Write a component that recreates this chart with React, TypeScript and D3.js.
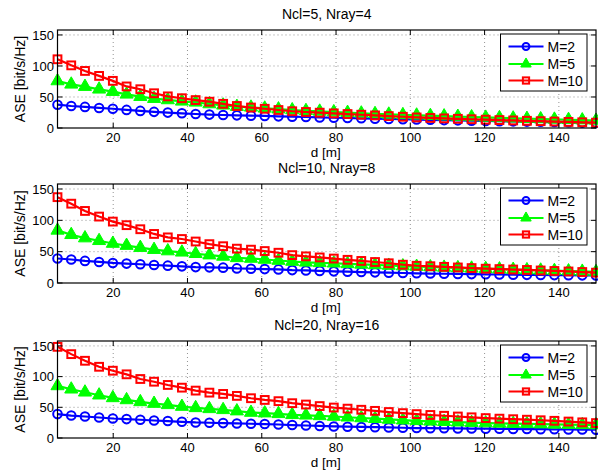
import * as d3 from 'd3';

// distance samples (m)
const dist = [5, 8.7, 12.4, 16.2, 19.9, 23.6, 27.3, 31.0, 34.7, 38.5, 42.2, 45.9, 49.6, 53.3, 57.1, 60.8, 64.5, 68.2, 71.9, 75.6,
  79.4, 83.1, 86.8, 90.5, 94.2, 98.0, 101.7, 105.4, 109.1, 112.8, 116.5, 120.3, 124.0, 127.7, 131.4, 135.1, 138.8, 142.6, 146.3, 150];

const titles = ['Ncl=5, Nray=4', 'Ncl=10, Nray=8', 'Ncl=20, Nray=16'];
const seriesNames = ['M=2', 'M=5', 'M=10'];

// panel 1
const p1M2 = [37.6, 35.5, 34, 32.3, 31, 29.2, 27.6, 26, 24.8, 23.7, 22.6, 21.6, 21, 20.4, 19.9, 19.4, 18.8, 18.3, 17.7, 17.1,
  16.5, 16.1, 15.6, 15.1, 14.6, 14.1, 13.6, 13.2, 12.7, 12.3, 11.8, 11.4, 11, 10.7, 10.3, 10, 9.6, 9.2, 8.7, 8.3];
const p1M5 = [75.8, 70.4, 66.7, 62.4, 58.6, 54.3, 50.5, 47.3, 45.2, 43, 41.4, 38.7, 36.6, 34.4, 33.3, 31.7, 30.4, 29, 27.8, 26.8,
  25.8, 24.8, 23.8, 22.9, 22, 21.2, 20.5, 19.8, 19.1, 18.4, 17.7, 17, 16.3, 15.7, 15.1, 14.5, 13.9, 13.3, 12.7, 12.1];
const p1M10 = [110.8, 101, 92, 84, 76, 67, 62.5, 56, 51, 48, 45, 42.4, 39, 35.5, 33, 31, 29, 27, 25.8, 24.7,
  23.6, 22.5, 21.4, 20.3, 19.2, 18.1, 17, 16.2, 15.5, 14.8, 14.1, 13.4, 12.8, 12.2, 11.6, 11, 10.4, 9.8, 9.2, 8.6];

// panel 2
const p2M2 = [39.1, 37.5, 35.3, 33.6, 32, 31, 29.9, 28.7, 27.7, 26.6, 25.4, 25, 24.5, 23.3, 22.8, 22.2, 21.7, 20.6, 20, 19.3,
  18.6, 18, 17.5, 17, 16.5, 16, 15.5, 15.1, 14.8, 14.5, 14.2, 13.9, 13.6, 13.3, 13, 12.8, 12.6, 12.4, 12.2, 12];
const p2M5 = [84, 77, 71.7, 67.4, 63, 59.7, 56.4, 53.2, 51, 49, 46.7, 44.5, 42.4, 40.1, 39.1, 37.5, 35.9, 34.3, 33, 32.2,
  31.5, 30.5, 29.7, 28.8, 27.9, 27, 26.2, 25.5, 24.8, 24.1, 23.4, 22.8, 22.1, 21.4, 20.8, 20.2, 19.6, 19, 18.4, 17.8];
const p2M10 = [137, 126.6, 115, 106, 98, 92.3, 85.8, 78.3, 72.8, 70.2, 66.2, 62, 58.7, 54.8, 53.2, 51, 48.3, 44.5, 42.5, 40.8,
  39, 37, 35.2, 33.5, 31.5, 29.2, 27.5, 26.8, 25.8, 24.8, 23.8, 22.8, 22.2, 21.5, 20.8, 20, 19.2, 18.4, 17.5, 16.5];

// panel 3
const p3M2 = [38.9, 36.6, 35, 33.4, 31.8, 30.8, 29.7, 28.5, 27.6, 26.4, 25.3, 24.8, 24.3, 23.7, 23.2, 22.7, 22, 21.1, 20.4, 19.6,
  18.8, 18.4, 18, 17.6, 17.2, 16.7, 16.2, 16, 15.8, 15.6, 15.4, 15.2, 15, 14.8, 14.6, 14.4, 14.2, 14, 13.8, 13.5];
const p3M5 = [84.8, 79.4, 74.5, 69.7, 65.3, 62, 58.8, 56.1, 54, 51.2, 49.1, 47.5, 45.9, 43.8, 41.5, 40.5, 39.4, 37.8, 37, 36,
  35, 33.8, 32.6, 31.4, 30.2, 29, 28, 27.2, 26.5, 25.7, 25, 24.3, 23.8, 23.4, 23, 22.6, 22.2, 21.8, 21.4, 21];
const p3M10 = [148.5, 136.6, 125.8, 116, 109.6, 103.7, 96.1, 91.7, 86.4, 82, 77.2, 73.9, 71.8, 68.6, 64.8, 62, 60, 56.7, 54.5, 52,
  49.6, 47.8, 46, 44.2, 42.3, 40.5, 38.9, 37.5, 36.2, 35, 33.7, 32.4, 31.5, 30.6, 29.8, 28.9, 28, 26.8, 25.5, 24.3];

const panelData = [[p1M2, p1M5, p1M10], [p2M2, p2M5, p2M10], [p3M2, p3M5, p3M10]];
const xTicks = [20, 40, 60, 80, 100, 120, 140];
const yTicks = [0, 50, 100, 150];

const colors = ['#0000ff', '#00ff00', '#ff0000'];
const FONT = '"Liberation Sans", Arial, Helvetica, sans-serif';

const W = 598, H = 472;
const left = 57.5, right = 596;
const panels = [
  { top: 30, bottom: 128 },
  { top: 184, bottom: 283 },
  { top: 341, bottom: 438 },
];

function Marker({ kind, x, y, color, small }: { kind: number; x: number; y: number; color: string; small?: boolean }) {
  const f = small ? 0.8 : 1;
  if (kind === 0) return <circle cx={x} cy={y} r={4.3 * f} fill="none" stroke={color} strokeWidth={2} />;
  if (kind === 1) {
    const s = 5.8 * f;
    const sym = d3.symbol().type(d3.symbolTriangle).size(s * s * 2.2)();
    return <path d={sym || ''} transform={`translate(${x},${y})`} fill={color} stroke={color} strokeWidth={1} />;
  }
  const h = 3.9 * f;
  return <rect x={x - h} y={y - h} width={2 * h} height={2 * h} fill="none" stroke={color} strokeWidth={2} />;
}

function Panel({ idx }: { idx: number }) {
  const { top, bottom } = panels[idx];
  const x = d3.scaleLinear().domain([5, 150]).range([left, right]);
  const y = d3.scaleLinear().domain([0, 158]).range([bottom, top]);
  const line = d3.line<number>().x((_, i) => x(dist[i])).y(d => y(d));
  const series = panelData[idx];
  const lgX = 500.5, lgY = top + 4, lgW = 86.5, lgH = 57;
  const rows = [12.5, 30, 46.5];
  return (
    <g>
      {/* grid */}
      {xTicks.map(t => (
        <line key={'gx' + t} x1={x(t)} x2={x(t)} y1={top} y2={bottom} stroke="#777" strokeWidth={0.8} strokeDasharray="1,3" />
      ))}
      {yTicks.filter(t => t > 0).map(t => (
        <line key={'gy' + t} x1={left} x2={right} y1={y(t)} y2={y(t)} stroke="#777" strokeWidth={0.8} strokeDasharray="1,3" />
      ))}
      {/* series */}
      {series.map((s, k) => (
        <g key={'s' + k}>
          <path d={line(s) || ''} fill="none" stroke={colors[k]} strokeWidth={2.2} />
          {s.map((v, i) => <Marker key={i} kind={k} x={x(dist[i])} y={y(v)} color={colors[k]} />)}
        </g>
      ))}
      {/* ticks */}
      {xTicks.map(t => (
        <g key={'tx' + t}>
          <line x1={x(t)} x2={x(t)} y1={bottom} y2={bottom - 5} stroke="#000" />
          <line x1={x(t)} x2={x(t)} y1={top} y2={top + 5} stroke="#000" />
          <text x={x(t)} y={bottom + 13.5} textAnchor="middle" fontSize={13} fontFamily={FONT}>{t}</text>
        </g>
      ))}
      {yTicks.map(t => (
        <g key={'ty' + t}>
          <line x1={left} x2={left + 5} y1={y(t)} y2={y(t)} stroke="#000" />
          <line x1={right} x2={right - 5} y1={y(t)} y2={y(t)} stroke="#000" />
          <text x={54} y={y(t) + 4.7} textAnchor="end" fontSize={13} fontFamily={FONT}>{t}</text>
        </g>
      ))}
      <rect x={left} y={top} width={right - left} height={bottom - top} fill="none" stroke="#000" strokeWidth={1.2} />
      <text x={(left + right) / 2} y={top - 11} textAnchor="middle" fontSize={14} fontFamily={FONT}>{titles[idx]}</text>
      <text x={(left + right) / 2 - 1} y={bottom + 29} textAnchor="middle" fontSize={13.5} fontFamily={FONT}>d [m]</text>
      <text transform={`translate(25,${(top + bottom) / 2}) rotate(-90)`} textAnchor="middle" fontSize={14} fontFamily={FONT}>ASE [bit/s/Hz]</text>
      {/* legend */}
      <rect x={lgX} y={lgY} width={lgW} height={lgH} fill="#fff" stroke="#000" strokeWidth={1} />
      {seriesNames.map((n, k) => (
        <g key={'lg' + k}>
          <line x1={lgX + 8} x2={lgX + 43} y1={lgY + rows[k]} y2={lgY + rows[k]} stroke={colors[k]} strokeWidth={2.2} />
          <Marker kind={k} x={lgX + 25.5} y={lgY + rows[k]} color={colors[k]} small />
          <text x={lgX + 47} y={lgY + rows[k] + 5} fontSize={14} fontFamily={FONT}>{n}</text>
        </g>
      ))}
    </g>
  );
}

export default function App() {
  return (
    <svg width={W} height={H} style={{ position: 'absolute', left: 0, top: 0, background: '#fff' }}>
      <rect width={W} height={H} fill="#fff" />
      {panels.map((_, i) => <Panel key={i} idx={i} />)}
    </svg>
  );
}
